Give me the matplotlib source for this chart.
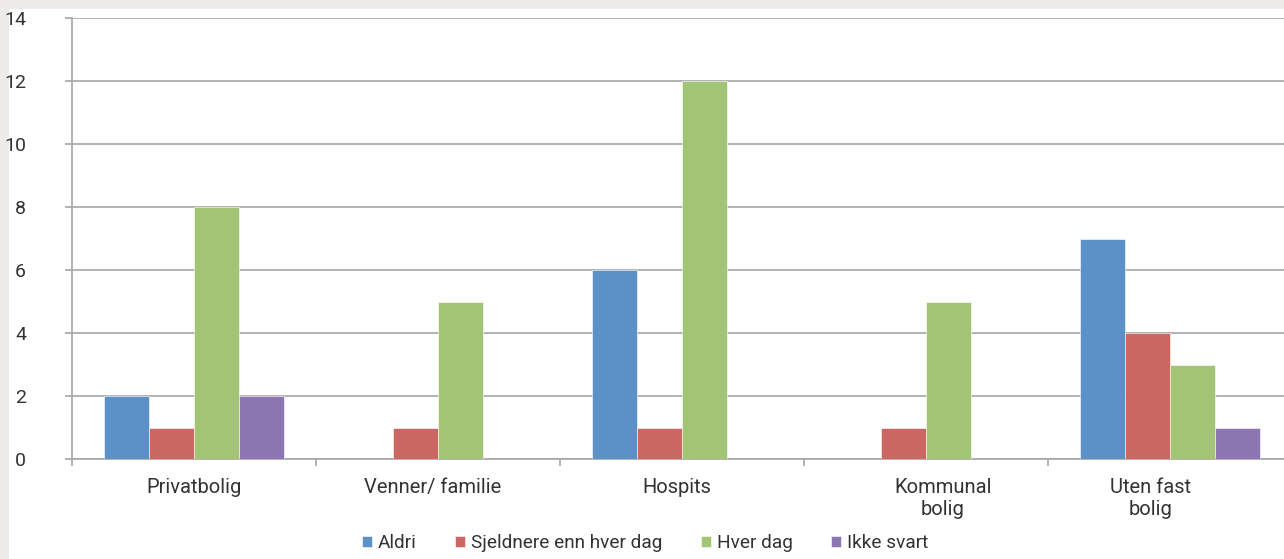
import numpy as np
import matplotlib.pyplot as plt
import matplotlib.transforms as mtransforms
from matplotlib.patches import Rectangle

plt.rcParams['font.family'] = ['Roboto', 'DejaVu Sans']

categories = ["Privatbolig", "Venner/ familie", "Hospits", "Kommunal\nbolig", "Uten fast\nbolig"]
series = ["Aldri", "Sjeldnere enn hver dag", "Hver dag", "Ikke svart"]
aldri = [2, 0, 6, 0, 7]
sjeldnere = [1, 1, 1, 1, 4]
hver_dag = [8, 5, 12, 5, 3]
ikke_svart = [2, 0, 0, 0, 1]
values = [aldri, sjeldnere, hver_dag, ikke_svart]
colors = ["#5B91C6", "#CB6762", "#A2C475", "#8C76B1"]

W, H = 1284, 559
fig = plt.figure(figsize=(W / 100, H / 100), dpi=100, facecolor="#EEEBE9")
fig.patches.append(Rectangle((9 / W, 0), 1, 1 - 9 / H, transform=fig.transFigure,
                             facecolor="white", edgecolor="none", zorder=-5))

ax = fig.add_axes([72 / W, (H - 459) / H, (W - 72) / W, (459 - 18) / H])
ax.set_facecolor("white")

x = np.arange(len(categories))
bw = 0.185
for i, (name, vals, c) in enumerate(zip(series, values, colors)):
    ax.bar(x + (i - 1.5) * bw, vals, width=bw, color=c, label=name,
           edgecolor="white", linewidth=0.4, zorder=3)

ax.set_yticks(range(0, 15, 2))
ax.yaxis.grid(True, color="#A6A6A6", linewidth=1.2, zorder=0)

ax.set_xticks(np.arange(-0.5, 5, 1), minor=False)
ax.set_xticklabels([])
ax.set_xticks(x, minor=True)
ax.set_xticklabels(categories, minor=True, fontsize=14.5, color="#333333", linespacing=1.2)
ax.tick_params(axis="x", which="minor", length=0, pad=14)
ax.tick_params(axis="x", which="major", length=5, color="#A6A6A6", width=1.2)
ax.tick_params(axis="y", length=5, color="#A6A6A6", width=1.2, pad=28,
               labelsize=14, labelcolor="#333333")

# the wrapped labels sit a little off centre in the original
shifts = [0, -5, -5, 17, -19]
for lab, dx in zip(ax.get_xticklabels(minor=True), shifts):
    lab.set_transform(lab.get_transform() +
                      mtransforms.ScaledTranslation(dx / 100, 0, fig.dpi_scale_trans))

# limits last: set_xticks widens the view otherwise
ax.set_xlim(-0.5, -0.5 + (W - 72) / 244)
ax.set_ylim(0, 14)

for s in ["top", "right"]:
    ax.spines[s].set_visible(False)
ax.spines["left"].set_color("#A6A6A6")
ax.spines["bottom"].set_color("#A6A6A6")
ax.spines["left"].set_linewidth(1.2)
ax.spines["bottom"].set_linewidth(1.2)

fig.legend(loc="center", bbox_to_anchor=(645 / W, 1 - 543 / H), ncol=4, frameon=False,
           fontsize=13.7, handlelength=0.55, handleheight=0.55, handletextpad=0.3,
           columnspacing=2.0, labelcolor="#333333")

fig.savefig("out.png", dpi=100, facecolor=fig.get_facecolor())
